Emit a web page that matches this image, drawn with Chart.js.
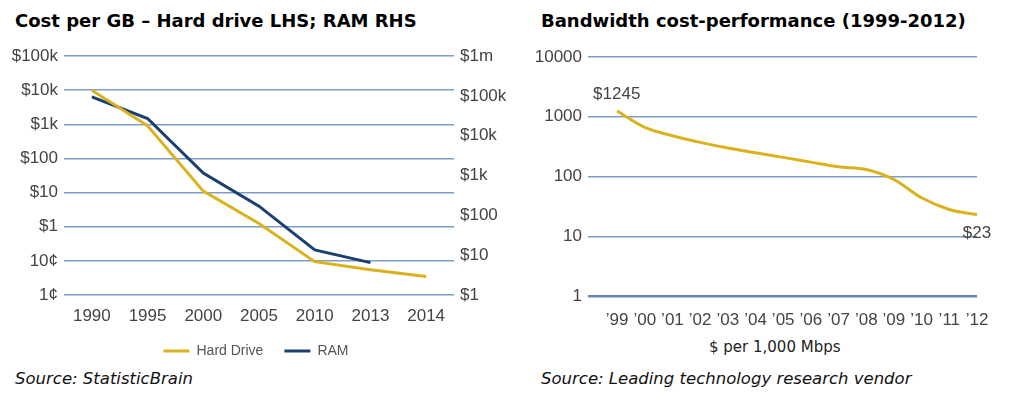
<!DOCTYPE html>
<html>
<head>
<meta charset="utf-8">
<script src="https://cdn.jsdelivr.net/npm/chart.js@4.4.1/dist/chart.umd.min.js"></script>
<style>
  body { margin: 0; width: 1024px; height: 397px; background: #fff; position: relative; overflow: hidden; font-family: "DejaVu Sans", sans-serif; }
  .txt { position: absolute; white-space: nowrap; line-height: 1; }
  .title { font-weight: bold; font-size: 18px; color: #000; }
  .src { font-style: italic; font-size: 16.5px; color: #111; }
  .caption { font-size: 15px; color: #222; }
  canvas { position: absolute; }
</style>
</head>
<body>
<div class="txt title" style="left:15px;top:12px">Cost per GB – Hard drive LHS; RAM RHS</div>
<div class="txt title" style="left:541px;top:12px">Bandwidth cost-performance (1999-2012)</div>
<canvas id="costChart" width="512" height="332" style="left:0;top:36px"></canvas>
<canvas id="bwChart" width="512" height="300" style="left:512px;top:36px"></canvas>
<div class="txt caption" style="left:709px;top:340px">$ per 1,000 Mbps</div>
<div class="txt src" style="left:15px;top:371px">Source: StatisticBrain</div>
<div class="txt src" style="left:541px;top:371px">Source: Leading technology research vendor</div>

<script>
// left chart: cost per GB
const years = ['1990', '1995', '2000', '2005', '2010', '2013', '2014'];
const hardDrive = [10000, 900, 11, 1.25, 0.095, 0.055, 0.035];
const ram = [94000, 27000, 1150, 170, 13.5, 6.5, null];
const hdTicks = [0.01, 0.1, 1, 10, 100, 1000, 10000, 100000];
const hdTickLabels = ['1¢', '10¢', '$1', '$10', '$100', '$1k', '$10k', '$100k'];
const ramTicks = [1, 10, 100, 1000, 10000, 100000, 1000000];
const ramTickLabels = ['$1', '$10', '$100', '$1k', '$10k', '$100k', '$1m'];

// right chart: bandwidth
const bwYears = [1999, 2000, 2001, 2002, 2003, 2004, 2005, 2006, 2007, 2008, 2009, 2010, 2011, 2012];
const bwCost = [1245, 664, 481, 372, 299, 250, 209, 174, 145, 131, 89, 44, 28, 23];
const bwTicks = [1, 10, 100, 1000, 10000];

const gold = '#d9b21e';
const navy = '#1b3f6e';
const gridBlue = '#7f9dc6';
const tickColor = '#444';
const tickFont = { family: 'Liberation Sans', size: 17 };

function initCostChart() {
  const ctx = document.getElementById('costChart').getContext('2d');
  new Chart(ctx, {
    type: 'line',
    data: {
      labels: years,
      datasets: [{
        label: 'Hard Drive',
        data: hardDrive,
        borderColor: gold,
        backgroundColor: gold,
        borderWidth: 3,
        pointRadius: 0,
        tension: 0,
        yAxisID: 'y'
      }, {
        label: 'RAM',
        data: ram,
        borderColor: navy,
        backgroundColor: navy,
        borderWidth: 3,
        pointRadius: 0,
        tension: 0,
        yAxisID: 'y1'
      }]
    },
    options: {
      responsive: false,
      animation: false,
      layout: { padding: { top: 20, left: 0, right: 0, bottom: 0 } },
      plugins: {
        legend: {
          position: 'bottom',
          labels: {
            usePointStyle: true,
            pointStyle: 'line',
            pointStyleWidth: 26,
            padding: 21,
            color: '#555',
            font: { family: 'Liberation Sans', size: 14 }
          }
        },
        tooltip: { enabled: false }
      },
      scales: {
        x: {
          offset: true,
          grid: { display: false, drawTicks: false },
          border: { display: false },
          ticks: { padding: 11, color: tickColor, font: tickFont, maxRotation: 0 },
          afterFit: (scale) => { scale.height = 28; }
        },
        y: {
          type: 'logarithmic',
          min: 0.01,
          max: 100000,
          afterBuildTicks: (scale) => { scale.ticks = hdTicks.map(v => ({ value: v })); },
          ticks: { callback: (v, i) => hdTickLabels[i], padding: 6, color: tickColor, font: tickFont },
          grid: { color: gridBlue, lineWidth: 1.5, drawTicks: false },
          border: { display: false },
          afterFit: (scale) => { scale.width = 64; }
        },
        y1: {
          type: 'logarithmic',
          position: 'right',
          min: 1,
          max: 1000000,
          afterBuildTicks: (scale) => { scale.ticks = ramTicks.map(v => ({ value: v })); },
          ticks: { callback: (v, i) => ramTickLabels[i], padding: 6, color: tickColor, font: tickFont },
          grid: { display: false, drawTicks: false },
          border: { display: false },
          afterFit: (scale) => { scale.width = 58; }
        }
      }
    }
  });
}

// "$1245" / "$23" labels at both ends of the line
const endLabels = {
  id: 'endLabels',
  afterDatasetsDraw(chart) {
    const pts = chart.getDatasetMeta(0).data;
    const first = pts[0];
    const last = pts[pts.length - 1];
    const c = chart.ctx;
    c.save();
    c.font = '17px "Liberation Sans"';
    c.fillStyle = tickColor;
    c.textBaseline = 'middle';
    c.textAlign = 'left';
    c.fillText('$' + bwCost[0], first.x - 24, first.y - 17);
    c.textAlign = 'center';
    c.fillText('$' + bwCost[bwCost.length - 1], last.x, last.y + 19);
    c.restore();
  }
};

function initBandwidthChart() {
  const ctx = document.getElementById('bwChart').getContext('2d');
  new Chart(ctx, {
    type: 'line',
    data: {
      datasets: [{
        label: '$ per 1,000 Mbps',
        data: bwYears.map((yr, i) => ({ x: yr, y: bwCost[i] })),
        borderColor: gold,
        borderWidth: 3,
        pointRadius: 0,
        cubicInterpolationMode: 'monotone'
      }]
    },
    options: {
      responsive: false,
      animation: false,
      layout: { padding: { top: 21, left: 0, right: 47, bottom: 0 } },
      plugins: {
        legend: { display: false },
        tooltip: { enabled: false }
      },
      scales: {
        x: {
          type: 'linear',
          min: 1997.95,
          max: 2012,
          afterBuildTicks: (scale) => { scale.ticks = bwYears.map(v => ({ value: v })); },
          ticks: {
            callback: (v) => '\u2019' + String(v).slice(2),
            padding: 14, autoSkip: false, maxRotation: 0,
            color: tickColor, font: tickFont
          },
          grid: { display: false, drawTicks: false },
          border: { display: false },
          afterFit: (scale) => { scale.height = 40; }
        },
        y: {
          type: 'logarithmic',
          min: 1,
          max: 10000,
          afterBuildTicks: (scale) => { scale.ticks = bwTicks.map(v => ({ value: v })); },
          ticks: { callback: (v) => String(v), padding: 6, color: tickColor, font: tickFont },
          grid: {
            color: (c) => c.tick && c.tick.value === 1 ? '#6685b0' : gridBlue,
            lineWidth: (c) => c.tick && c.tick.value === 1 ? 2.5 : 1.5,
            drawTicks: false
          },
          border: { display: false },
          afterFit: (scale) => { scale.width = 76; }
        }
      }
    },
    plugins: [endLabels]
  });
}

window.addEventListener('load', () => {
  initCostChart();
  initBandwidthChart();
});
</script>
</body>
</html>
